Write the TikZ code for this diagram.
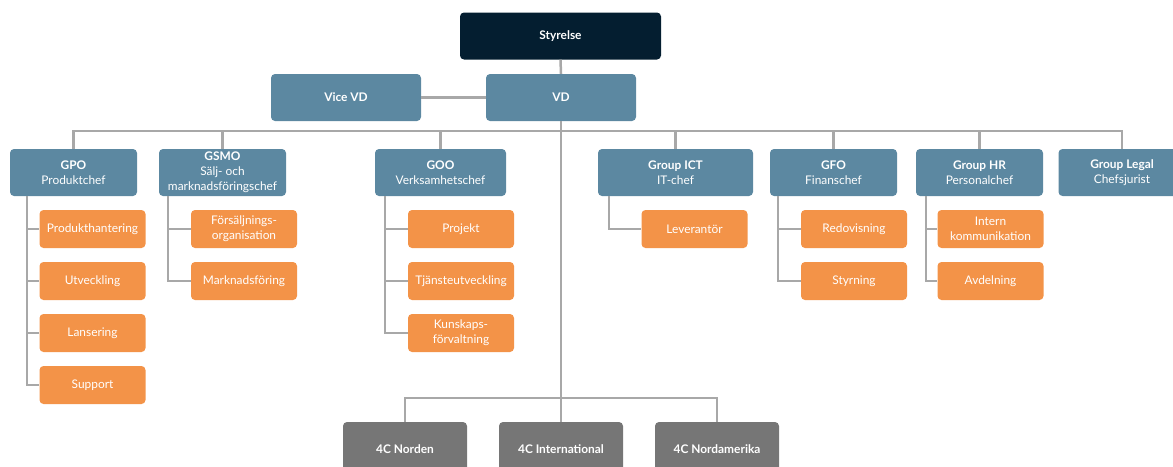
\documentclass[tikz,border=0pt]{standalone}
\usepackage{fontspec}
\setmainfont{Lato}
\begin{document}
\begin{tikzpicture}[x=1pt,y=-1pt,
  base/.style={rounded corners=4pt,inner sep=1pt,align=center,text=white,
    font=\fontsize{11.9}{15}\selectfont,minimum height=47pt},
  board/.style={base,fill=boardc,minimum width=201pt},
  mgr/.style={base,fill=mgrc,minimum width=127pt},
  unit/.style={base,fill=unitc,minimum width=106pt,minimum height=38pt},
  region/.style={base,fill=regc,minimum width=124pt,minimum height=54pt},
  link/.style={draw=linec,line width=2.5pt}]
\definecolor{boardc}{HTML}{041E30}
\definecolor{mgrc}{HTML}{5C88A1}
\definecolor{unitc}{HTML}{F39348}
\definecolor{regc}{HTML}{767676}
\definecolor{linec}{HTML}{A8A8A8}
\useasboundingbox (0,0) rectangle (1173,466);
\clip (0,0) rectangle (1173,466);

% top of the organisation
\node[board] (sty) at (560.5,36) {\textbf{Styrelse}};
\node[mgr,minimum width=150pt] (vvd) at (346,97.5) {\textbf{Vice VD}};
\node[mgr,minimum width=150pt] (vd) at (561,97.5) {\textbf{VD}};

% group functions
\node[mgr] (gpo) at (73.5,172.5) {\textbf{GPO}\\Produktchef};
\node[mgr] (gsmo) at (222.5,172.5) {\textbf{GSMO}\\Sälj- och\\marknadsföringschef};
\node[mgr,minimum width=131pt] (goo) at (440.5,172.5) {\textbf{GOO}\\Verksamhetschef};
\node[mgr,minimum width=155pt] (ict) at (675.5,172.5) {\textbf{Group ICT}\\IT-chef};
\node[mgr] (gfo) at (833.5,172.5) {\textbf{GFO}\\Finanschef};
\node[mgr] (ghr) at (979.5,172.5) {\textbf{Group HR}\\Personalchef};
\node[mgr] (legal) at (1122,172.5) {\textbf{Group Legal}\\Chefsjurist};

% units under GPO
\node[unit] (p1) at (92.5,229) {Produkthantering};
\node[unit] (p2) at (92.5,281) {Utveckling};
\node[unit] (p3) at (92.5,333) {Lansering};
\node[unit] (p4) at (92.5,385) {Support};
% units under GSMO
\node[unit] (s1) at (244,229) {Försäljnings-\\organisation};
\node[unit] (s2) at (244,281) {Marknadsföring};
% units under GOO
\node[unit] (o1) at (461,229) {Projekt};
\node[unit] (o2) at (461,281) {Tjänsteutveckling};
\node[unit] (o3) at (461,333) {Kunskaps-\\förvaltning};
% unit under Group ICT
\node[unit] (i1) at (694.5,229) {Leverantör};
% units under GFO
\node[unit] (f1) at (854,229) {Redovisning};
\node[unit] (f2) at (854,281) {Styrning};
% units under Group HR
\node[unit] (h1) at (990.5,229) {Intern\\kommunikation};
\node[unit] (h2) at (990.5,281) {Avdelning};

% regions
\node[region] (r1) at (405,449) {\textbf{4C Norden}};
\node[region] (r2) at (561,449) {\textbf{4C International}};
\node[region] (r3) at (717,449) {\textbf{4C Nordamerika}};

% connectors
\coordinate (topbus) at (0,131);
\coordinate (lowbus) at (0,398);
\draw[link] (sty.south) -- (vd.north);
\draw[link] (vvd.east) -- (vd.west);
\draw[link] (vd.south) -- (vd.south |- lowbus);
\draw[link] (gpo.north) -- (gpo.north |- topbus) -- (legal.north |- topbus) -- (legal.north);
\foreach \n in {gsmo,goo,ict,gfo,ghr}
  \draw[link] (\n.north) -- (\n.north |- topbus);
\draw[link] (r1.north) -- (r1.north |- lowbus) -- (r3.north |- lowbus) -- (r3.north);
\draw[link] (r2.north) -- (r2.north |- lowbus);

\coordinate (tp) at (27,196);
\coordinate (ts) at (168,196);
\coordinate (to) at (385,196);
\coordinate (ti) at (609,196);
\coordinate (tf) at (778,196);
\coordinate (th) at (926,196);
\foreach \c in {p1,p2,p3,p4} \draw[link] (tp) |- (\c.west);
\foreach \c in {s1,s2} \draw[link] (ts) |- (\c.west);
\foreach \c in {o1,o2,o3} \draw[link] (to) |- (\c.west);
\draw[link] (ti) |- (i1.west);
\foreach \c in {f1,f2} \draw[link] (tf) |- (\c.west);
\foreach \c in {h1,h2} \draw[link] (th) |- (\c.west);
\end{tikzpicture}
\end{document}
